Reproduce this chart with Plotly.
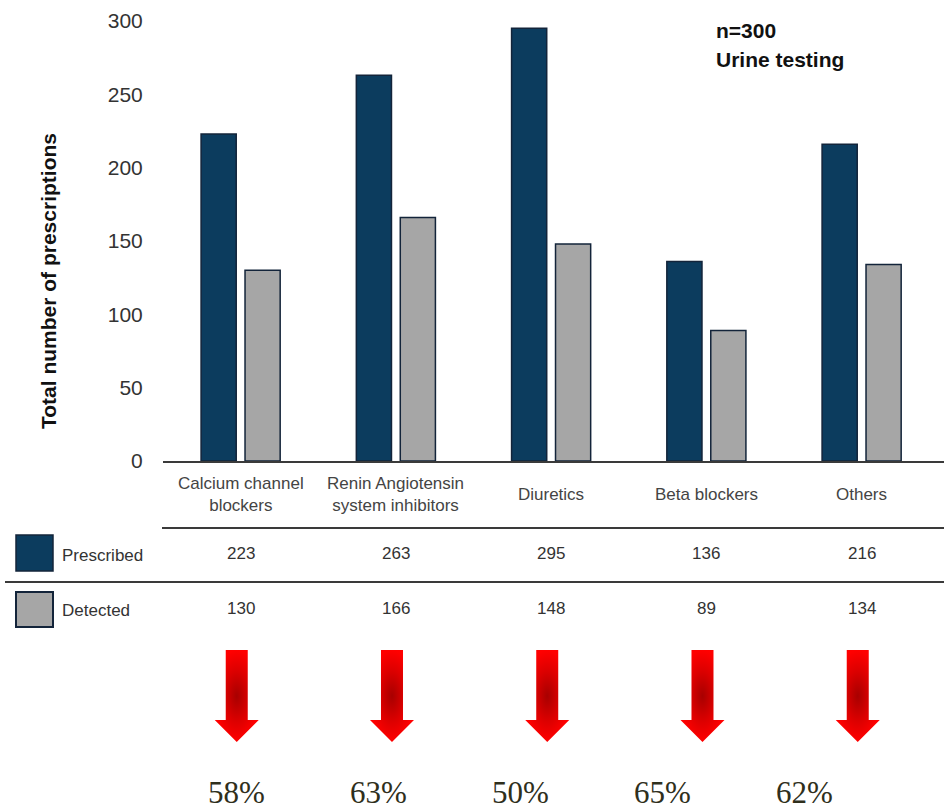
import plotly.graph_objects as go

# ---- data -------------------------------------------------------------
categories = [
    "Calcium channel<br>blockers",
    "Renin Angiotensin<br>system inhibitors",
    "Diuretics",
    "Beta blockers",
    "Others",
]
prescribed = [223, 263, 295, 136, 216]
detected = [130, 166, 148, 89, 134]
y_ticks = [0, 50, 100, 150, 200, 250, 300]
row_names = ["Prescribed", "Detected"]
sample_note = ["n=300", "Urine testing"]

# ---- page geometry (pixels) -------------------------------------------
W, H = 944, 811
PLOT_LEFT, PLOT_RIGHT = 163, 944
PLOT_TOP, PLOT_BOTTOM = 21, 461
CAT_STEP = 155.25            # pixels between category centres


def py(row):
    """pixel row -> paper y"""
    return 1 - row / H


def px(col):
    """pixel column -> paper x"""
    return col / W


NAVY = "#0c3c5e"
GRAY = "#a6a6a6"
EDGE = "#13243a"
RULE = "#3a3a3a"
SANS = "Liberation Sans, Arial, sans-serif"
SERIF = "Liberation Serif, Times New Roman, serif"

idx = list(range(len(categories)))
x_max = -0.5 + (PLOT_RIGHT - PLOT_LEFT) / CAT_STEP

fig = go.Figure()

fig.add_bar(x=idx, y=prescribed, name=row_names[0],
            marker=dict(color=NAVY, line=dict(color=EDGE, width=1.5)),
            hoverinfo="skip")
fig.add_bar(x=idx, y=detected, name=row_names[1],
            marker=dict(color=GRAY, line=dict(color=EDGE, width=1.5)),
            hoverinfo="skip")

# ---- red down arrows under each category (pixel rows on y2) ----------
unit = 1 / CAT_STEP
arrow_shape = [(-11, 650), (11, 650), (11, 720), (22, 720), (0, 742),
               (-22, 720), (-11, 720), (-11, 650)]
for i in idx:
    cx = i - 0.025
    fig.add_scatter(
        x=[cx + dx * unit for dx, _ in arrow_shape],
        y=[dy for _, dy in arrow_shape],
        xaxis="x", yaxis="y2",
        mode="lines", fill="toself",
        line=dict(width=0, color="#ff0000"),
        fillgradient=dict(type="radial",
                          colorscale=[[0, "#a80000"], [0.55, "#dc0000"], [1, "#ff0000"]]),
        hoverinfo="skip", showlegend=False,
    )

annotations = []

# category labels
for i, c in enumerate(categories):
    annotations.append(dict(x=i, xref="x", y=py(494), yref="paper",
                            text=c, showarrow=False, xanchor="center", yanchor="middle",
                            font=dict(family=SANS, size=17, color="#444444")))

# table rows
for vals, row in ((prescribed, 553), (detected, 608)):
    for i, v in enumerate(vals):
        annotations.append(dict(x=i, xref="x", y=py(row), yref="paper",
                                text=str(v), showarrow=False,
                                xanchor="center", yanchor="middle",
                                font=dict(family=SANS, size=17, color="#333333")))

for name, row in zip(row_names, (555, 610)):
    annotations.append(dict(x=px(60), xref="paper", y=py(row), yref="paper",
                            text=name, showarrow=False, xanchor="left", yanchor="middle",
                            font=dict(family=SANS, size=17, color="#333333")))

# detection percentages
for i, (p, d) in enumerate(zip(prescribed, detected)):
    annotations.append(dict(x=px(236 + 142 * i), xref="paper", y=py(792), yref="paper",
                            text=f"{round(d / p * 100)}%", showarrow=False,
                            xanchor="center", yanchor="middle",
                            font=dict(family=SERIF, size=31, color="#2f2f1c")))

# y axis title
annotations.append(dict(x=px(48), xref="paper", y=py(281), yref="paper",
                        text="<b>Total number of prescriptions</b>", textangle=-90,
                        showarrow=False, xanchor="center", yanchor="middle",
                        font=dict(family=SANS, size=21, color="#111111")))

# sample note
for txt, row in zip(sample_note, (30, 60)):
    annotations.append(dict(x=px(714), xref="paper", y=py(row), yref="paper",
                            text=f"<b>{txt}</b>", showarrow=False,
                            xanchor="left", yanchor="middle",
                            font=dict(family=SANS, size=21, color="#111111")))

shapes = [
    dict(type="line", xref="paper", yref="paper",
         x0=px(162), x1=px(944), y0=py(528), y1=py(528),
         line=dict(color=RULE, width=2)),
    dict(type="line", xref="paper", yref="paper",
         x0=px(5), x1=px(944), y0=py(582), y1=py(582),
         line=dict(color=RULE, width=2)),
    dict(type="rect", xref="paper", yref="paper",
         x0=px(16), x1=px(53), y0=py(571), y1=py(535),
         fillcolor=NAVY, line=dict(color=EDGE, width=1.5)),
    dict(type="rect", xref="paper", yref="paper",
         x0=px(16), x1=px(53), y0=py(627), y1=py(592),
         fillcolor=GRAY, line=dict(color=EDGE, width=2)),
]

fig.update_layout(
    width=W, height=H,
    margin=dict(l=0, r=0, t=0, b=0, pad=0, autoexpand=False),
    paper_bgcolor="white", plot_bgcolor="rgba(0,0,0,0)",
    barmode="group", bargap=0.434, bargroupgap=0.2,
    showlegend=False,
    xaxis=dict(domain=[px(PLOT_LEFT), px(PLOT_RIGHT)], range=[-0.5, x_max],
               showticklabels=False, ticks="", showgrid=False, zeroline=False,
               showline=True, linecolor=RULE, linewidth=2, fixedrange=True,
               automargin=False),
    yaxis=dict(domain=[py(PLOT_BOTTOM), py(PLOT_TOP)], range=[0, 300],
               tickvals=y_ticks, ticks="outside", ticklen=15,
               tickcolor="rgba(0,0,0,0)", showgrid=False, zeroline=False,
               showline=False, fixedrange=True, automargin=False,
               tickfont=dict(family=SANS, size=21, color="#333333")),
    yaxis2=dict(domain=[0, 1], range=[H, 0], anchor="x", visible=False,
                fixedrange=True, automargin=False),
    annotations=annotations,
    shapes=shapes,
)

fig.write_html("out.html")
